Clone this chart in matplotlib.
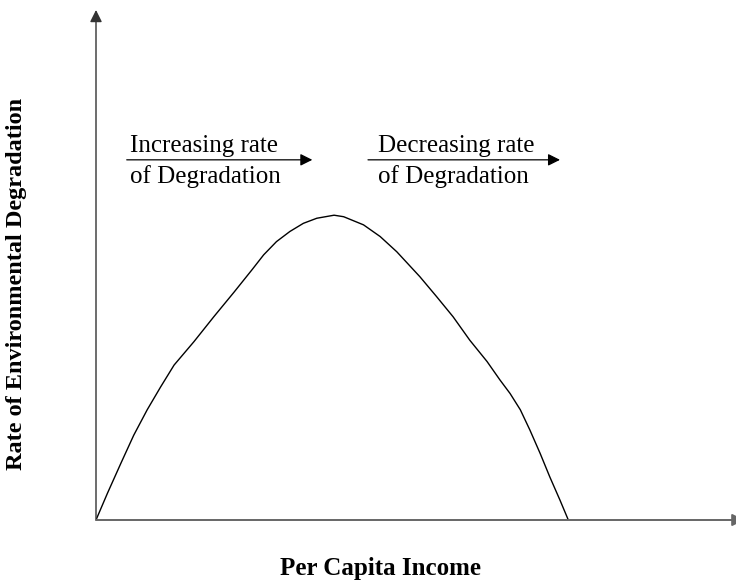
import matplotlib
matplotlib.use('Agg')
import matplotlib.pyplot as plt

plt.rcParams.update({
    'font.family': 'Liberation Serif',
    'font.size': 18,
})

# Environmental Kuznets curve
income = [0.00, 0.18, 0.39, 0.59, 0.80, 1.01, 1.22, 1.53, 1.84, 2.16,
          2.44, 2.62, 2.82, 3.03, 3.24, 3.45, 3.72, 3.87, 4.18, 4.44,
          4.70, 5.06, 5.32, 5.58, 5.84, 6.11, 6.31, 6.47, 6.63, 6.78,
          6.94, 7.09, 7.25, 7.38]
degradation = [0.00, 0.53, 1.12, 1.67, 2.17, 2.62, 3.05, 3.51, 4.00, 4.49,
               4.93, 5.22, 5.48, 5.68, 5.84, 5.94, 6.00, 5.97, 5.81, 5.58,
               5.28, 4.79, 4.40, 4.00, 3.54, 3.12, 2.76, 2.49, 2.17, 1.77,
               1.31, 0.85, 0.39, 0.00]

x_label = 'Per Capita Income'
y_label = 'Rate of Environmental Degradation'
left_note = ['Increasing rate', 'of Degradation']
right_note = ['Decreasing rate', 'of Degradation']

fig = plt.figure(figsize=(7.36, 5.87), dpi=100)
ax = fig.add_axes([96 / 736, 67 / 587, 640 / 736, 508 / 587])
ax.set_xlim(0, 10)
ax.set_ylim(0, 10)
ax.axis('off')

ax.plot(income, degradation, color='black', lw=1.0,
        solid_joinstyle='round', solid_capstyle='round')

head = dict(arrowstyle='-|>,head_length=0.4,head_width=0.2', mutation_scale=18)

# axes with arrow heads
ax.annotate('', xy=(0, 10.04), xytext=(0, 0), annotation_clip=False,
            arrowprops=dict(color='#333333', lw=1.0, shrinkA=0, shrinkB=0, **head))
ax.annotate('', xy=(10.13, 0), xytext=(0, 0), annotation_clip=False,
            arrowprops=dict(color='#666666', lw=1.4, shrinkA=0, shrinkB=0, **head))

# direction notes
for x0, x1, tx, lines in [(0.48, 3.38, 0.53, left_note),
                          (4.25, 7.25, 4.41, right_note)]:
    ax.annotate('', xy=(x1, 7.09), xytext=(x0, 7.09),
                arrowprops=dict(color='black', lw=0.9, shrinkA=0, shrinkB=0, **head))
    ax.text(tx, 7.25, lines[0], ha='left', va='baseline')
    ax.text(tx, 6.63, lines[1], ha='left', va='baseline')

fig.text(381 / 736, 12 / 587, x_label, ha='center', va='baseline',
         fontweight='bold')
fig.text(17 / 736, 1 - 284 / 587, y_label, ha='center', va='center',
         rotation=90, fontweight='bold', fontsize=17.5)

fig.savefig('out.png', dpi=100)
